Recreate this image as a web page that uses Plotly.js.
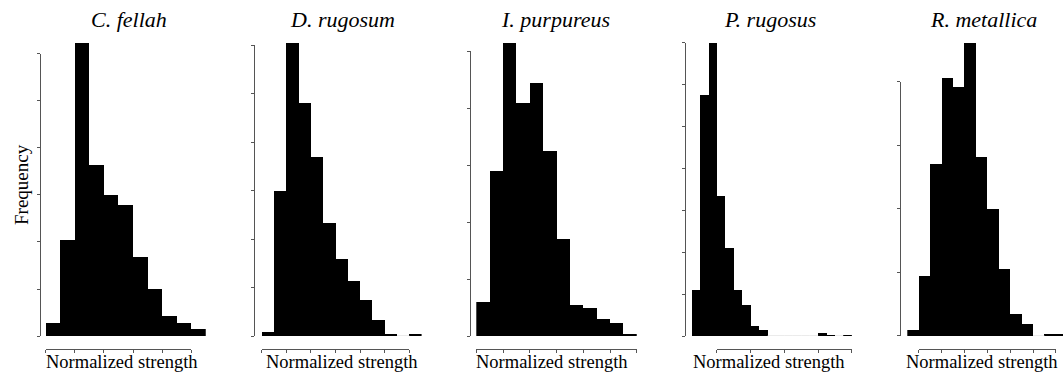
<!DOCTYPE html>
<html>
<head>
<meta charset="utf-8">
<script src="https://cdn.plot.ly/plotly-3.0.1.min.js"></script>
<style>html,body{margin:0;padding:0;background:#fff;}#chart{width:1063px;height:376px;}</style>
</head>
<body>
<div id="chart"></div>
<script>
// ---- Data (frequencies per bin; arbitrary frequency units) ----
const titles = ['C. fellah', 'D. rugosum', 'I. purpureus', 'P. rugosus', 'R. metallica'];
const freqFellah     = [2.8, 20.4, 62.4, 36.4, 29.9, 27.9, 16.9, 10.0, 4.3, 2.8, 1.4];
const freqRugosum    = [0.8, 30.0, 60.5, 48.0, 37.0, 23.4, 15.9, 11.4, 7.4, 3.3, 0.4, 0, 0.4];
const freqPurpureus  = [5.9, 28.9, 51.5, 41.0, 44.4, 32.4, 17.0, 5.4, 4.9, 2.9, 2.3, 0.35];
const freqRugosus    = [11.0, 57.5, 70.0, 33.5, 20.9, 11.0, 7.4, 2.5, 1.4, 0, 0, 0, 0, 0, 0, 0.8, 0.25, 0, 0.25];
const freqMetallica  = [0.9, 9.4, 27.0, 40.6, 39.1, 46.1, 28.1, 19.9, 10.5, 3.4, 1.9, 0, 0.3, 0.3];
const series = [freqFellah, freqRugosum, freqPurpureus, freqRugosus, freqMetallica];
// x-axis tick span (in bin-edge units) and y-axis top tick
const xTickStart = [0, 0, 0, 3, 1];
const xTickEnd   = [10, 12, 12, 19, 13];
const xTickStep  = [2, 2, 2, 4, 2];
const yTopTick   = [60, 60, 50, 70, 40];
const yTickStep  = 10;
const xLabel = 'Normalized strength';
const yLabel = 'Frequency';

// ---- Layout geometry (pixels) ----
const W = 1063, H = 376;
const panelLeft = [45.7, 261.7, 476.3, 691.7, 907.3];
const binPx     = [14.55, 12.3, 13.37, 8.43, 11.43];
const yLineX    = [40, 254.3, 470, 685, 900];
const titleX    = [129, 342, 555, 770, 983];
const labelX    = [121.7, 342, 551.7, 768.7, 981.7];
const basePx = 336, topPx = 42.7, xLinePx = 348.5;

const px = v => v / W;
const py = v => 1 - v / H;
const key = (p, n) => n === 1 ? p : p + n;

const traces = [];
const layout = {
  width: W, height: H,
  margin: {l: 0, r: 0, t: 0, b: 0},
  paper_bgcolor: '#fff', plot_bgcolor: 'rgba(0,0,0,0)',
  showlegend: false, bargap: 0,
  font: {family: '"Liberation Serif", "Times New Roman", serif', color: '#000'},
  annotations: []
};

series.forEach((vals, i) => {
  const k = i + 1, d = i + 6;
  const n = vals.length;
  const left = panelLeft[i], w = binPx[i];
  const right = Math.min(left + n * w, W);
  const maxVal = Math.max(...vals);
  const unit = (basePx - topPx) / maxVal;

  // bars
  traces.push({
    type: 'bar', x: vals.map((_, j) => j + 0.5), y: vals, width: 1,
    marker: {color: '#000', line: {width: 0}},
    xaxis: key('x', k), yaxis: key('y', k), hoverinfo: 'skip'
  });
  // faint baseline where a bin is empty
  const zx = [], zy = [];
  vals.forEach((v, j) => { if (v === 0) { zx.push(j, j + 1, null); zy.push(0, 0, null); } });
  if (zx.length) traces.push({
    type: 'scatter', mode: 'lines', x: zx, y: zy, line: {color: '#d8d8d8', width: 1.2},
    xaxis: key('x', k), yaxis: key('y', k), hoverinfo: 'skip', cliponaxis: false
  });

  layout[key('xaxis', k)] = {domain: [px(left), px(right)], range: [0, (right - left) / w],
    visible: false, anchor: key('y', k), fixedrange: true};
  layout[key('yaxis', k)] = {domain: [py(basePx), py(topPx)], range: [0, maxVal],
    visible: false, anchor: key('x', k), fixedrange: true};

  // decorative axes (offset lines with ticks)
  traces.push({type: 'scatter', x: [], y: [], xaxis: 'x' + d, yaxis: 'y' + d, hoverinfo: 'skip'});
  const xt = [];
  for (let t = xTickStart[i]; t <= xTickEnd[i]; t += xTickStep[i]) xt.push(t);
  const yt = [];
  for (let t = 0; t <= yTopTick[i]; t += yTickStep) yt.push(t);
  layout['xaxis' + d] = {
    domain: [px(left + xTickStart[i] * w), px(left + xTickEnd[i] * w)],
    range: [xTickStart[i], xTickEnd[i]], anchor: 'free', position: py(xLinePx),
    showline: true, linecolor: '#555', linewidth: 1, showgrid: false, zeroline: false,
    tickmode: 'array', tickvals: xt, ticks: 'outside', ticklen: 3, tickcolor: '#555',
    showticklabels: false, fixedrange: true
  };
  layout['yaxis' + d] = {
    domain: [py(basePx), py(basePx - yTopTick[i] * unit)],
    range: [0, yTopTick[i]], anchor: 'free', position: px(yLineX[i]),
    showline: true, linecolor: '#555', linewidth: 1, showgrid: false, zeroline: false,
    tickmode: 'array', tickvals: yt, ticks: 'outside', ticklen: 3, tickcolor: '#555',
    showticklabels: false, fixedrange: true
  };

  layout.annotations.push({
    text: '<i>' + titles[i] + '</i>', xref: 'paper', yref: 'paper',
    x: px(titleX[i]), y: py(19.5), xanchor: 'center', yanchor: 'middle',
    showarrow: false, font: {size: 22}
  });
  layout.annotations.push({
    text: xLabel, xref: 'paper', yref: 'paper',
    x: px(labelX[i]), y: py(361.5), xanchor: 'center', yanchor: 'middle',
    showarrow: false, font: {size: 18.5}
  });
});

layout.annotations.push({
  text: yLabel, xref: 'paper', yref: 'paper', x: px(21), y: py(185),
  xanchor: 'center', yanchor: 'middle', textangle: -90, showarrow: false, font: {size: 19}
});

Plotly.newPlot('chart', traces, layout, {staticPlot: true, displayModeBar: false});
</script>
</body>
</html>
